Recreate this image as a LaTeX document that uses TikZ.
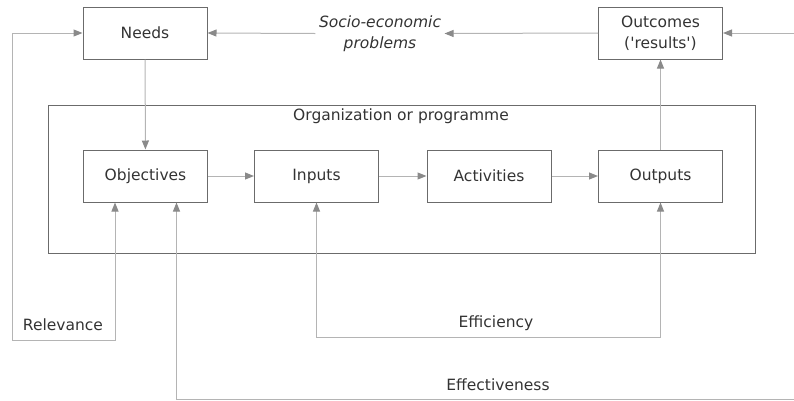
\documentclass[tikz,border=0pt]{standalone}
\usepackage{fontspec}
\setmainfont{DejaVu Sans}
\usetikzlibrary{arrows.meta}

\definecolor{boxline}{HTML}{6B6B6B}
\definecolor{connline}{HTML}{B4B4B4}
\definecolor{tipgray}{HTML}{8A8A8A}
\definecolor{labeltext}{HTML}{333333}

\tikzset{
  stagebox/.style={draw=boxline, line width=1pt, minimum width=124pt, minimum height=52pt,
    text=labeltext, align=center},
  conn/.style={draw=connline, line width=1pt,
    >={Triangle[length=9pt,width=7pt,color=tipgray]}},
  plainlabel/.style={text=labeltext}
}

\begin{document}
\begin{tikzpicture}[x=1pt, y=-1pt, font=\fontsize{15.5}{21}\selectfont]

    \useasboundingbox (0,0) rectangle (794,400);

    % Frame of the organization
    \node[draw=boxline, line width=1pt, minimum width=707pt, minimum height=148pt] (prog) at (401.5,179) {};
    \node[plainlabel] (progtitle) at (401,116) {Organization or programme};

    % Top row
    \node[stagebox] (needs) at (145,33) {Needs};
    \node[plainlabel, font=\fontsize{15.5}{21}\selectfont\itshape, align=center] (socio) at (380,33.5) {Socio-economic\\problems};
    \node[stagebox] (outcomes) at (660.5,33) {Outcomes\\(\textquotesingle results\textquotesingle)};

    % Row inside the frame
    \node[stagebox] (objectives) at (145.5,176) {Objectives};
    \node[stagebox] (inputs) at (316.5,176) {Inputs};
    \node[stagebox] (activities) at (489,176) {Activities};
    \node[stagebox] (outputs) at (660.5,176) {Outputs};

    % Free ends and corners of the loops
    \coordinate (relcorner) at (12,340);
    \coordinate (effline) at (0,337);
    \coordinate (effend) at (794,399);
    \coordinate (outin) at (794,33);

    % Chain of the programme
    \draw[conn,->] (objectives) -- (inputs);
    \draw[conn,->] (inputs) -- (activities);
    \draw[conn,->] (activities) -- (outputs);
    \draw[conn,->] (needs) -- (objectives);
    \draw[conn,->] (outputs) -- (outcomes);

    % Top arrows
    \draw[conn,->] (outin) -- (outcomes.east);
    \draw[conn,->] (outcomes.west) -- (socio.east);
    \draw[conn,->] (socio.west) -- (needs.east);

    % Relevance loop
    \draw[conn,<->] ([xshift=-30.5pt]objectives.south) |- (relcorner) |- (needs.west);
    \node[plainlabel] (relevance) at (63,325) {Relevance};

    % Efficiency loop
    \draw[conn,<->] (inputs.south) -- (inputs.south |- effline) -| (outputs.south);
    \node[plainlabel] (efficiency) at (496,323) {Efficiency};

    % Effectiveness loop
    \draw[conn,<-] ([xshift=31pt]objectives.south) |- (effend);
    \node[plainlabel] (effectiveness) at (498,385) {Effectiveness};

\end{tikzpicture}
\end{document}
